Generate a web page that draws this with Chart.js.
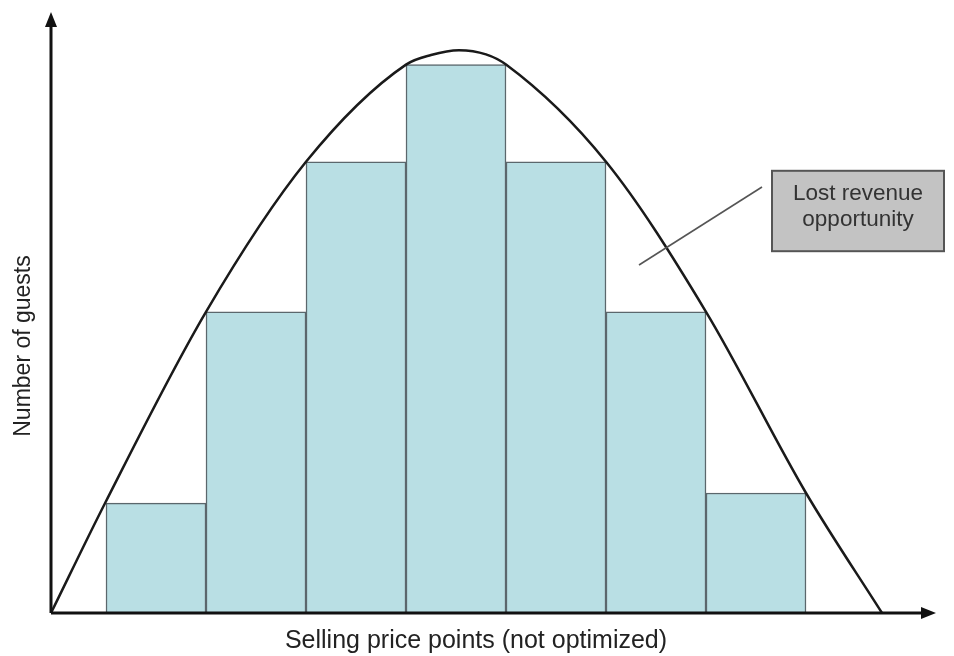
<!DOCTYPE html>
<html>
<head>
<meta charset="utf-8">
<script src="https://cdn.jsdelivr.net/npm/chart.js@4/dist/chart.umd.min.js"></script>
<style>
  html, body { margin: 0; padding: 0; background: #ffffff; }
  #wrap { width: 954px; height: 656px; position: relative; }
</style>
</head>
<body>
<div id="wrap"><canvas id="c" width="954" height="656"></canvas></div>
<script>
// Price points (bar centres, in price-step units) and guest counts per price point
const pricePoints = [1.05, 2.05, 3.05, 4.05, 5.05, 6.05, 7.05];
const guests      = [18.3, 50.2, 75.2, 91.4, 75.2, 50.2, 20.0];

// Underlying demand curve (x = price, y = guests)
const demandX = [0, 0.54, 1.55, 2.55, 3.55, 3.8, 4.08, 4.35, 4.55, 5.55, 6.55, 7.55, 8.31];
const demandY = [0, 18.3, 50.2, 75.2, 91.4, 93.0, 93.8, 93.1, 91.4, 75.2, 50.2, 20.0, 0];

// Axis titles and the callout
const xTitle = 'Selling price points (not optimized)';
const yTitle = 'Number of guests';
const calloutLines = ['Lost revenue', 'opportunity'];
// Callout box (data units) and its leader line
const calloutBox = { x0: 7.21, x1: 8.93, yTop: 73.7, yBottom: 60.3 };
const leader = { x0: 5.88, y0: 58.0, x1: 7.11, y1: 71.0 };

const FONT = '"Liberation Sans", Arial, sans-serif';

const axesAndNotes = {
  id: 'axesAndNotes',
  afterDatasetsDraw(chart) {
    const { ctx, chartArea: a, scales: { x, y } } = chart;
    ctx.save();

    // Leader line from the gap to the callout
    ctx.strokeStyle = '#555555';
    ctx.lineWidth = 1.6;
    ctx.beginPath();
    ctx.moveTo(x.getPixelForValue(leader.x0), y.getPixelForValue(leader.y0));
    ctx.lineTo(x.getPixelForValue(leader.x1), y.getPixelForValue(leader.y1));
    ctx.stroke();

    // Callout box
    const bx0 = x.getPixelForValue(calloutBox.x0), bx1 = x.getPixelForValue(calloutBox.x1);
    const by0 = y.getPixelForValue(calloutBox.yTop), by1 = y.getPixelForValue(calloutBox.yBottom);
    ctx.fillStyle = '#c3c3c3';
    ctx.fillRect(bx0, by0, bx1 - bx0, by1 - by0);
    ctx.strokeStyle = '#555555';
    ctx.lineWidth = 2;
    ctx.strokeRect(bx0, by0, bx1 - bx0, by1 - by0);
    ctx.fillStyle = '#333333';
    ctx.font = '22.5px ' + FONT;
    ctx.textAlign = 'center';
    ctx.textBaseline = 'alphabetic';
    const cx = (bx0 + bx1) / 2, cy = (by0 + by1) / 2;
    ctx.fillText(calloutLines[0], cx, cy - 11);
    ctx.fillText(calloutLines[1], cx, cy + 15);

    // Axes with arrow heads
    ctx.strokeStyle = '#111111';
    ctx.fillStyle = '#111111';
    ctx.lineWidth = 3;
    ctx.lineCap = 'butt';
    ctx.beginPath();
    ctx.moveTo(a.left, a.bottom);
    ctx.lineTo(a.left, a.top + 10);
    ctx.moveTo(a.left, a.bottom);
    ctx.lineTo(a.right - 10, a.bottom);
    ctx.stroke();
    ctx.beginPath();
    ctx.moveTo(a.left, a.top - 1);
    ctx.lineTo(a.left - 6, a.top + 14);
    ctx.lineTo(a.left + 6, a.top + 14);
    ctx.closePath();
    ctx.fill();
    ctx.beginPath();
    ctx.moveTo(a.right + 1, a.bottom);
    ctx.lineTo(a.right - 14, a.bottom - 6);
    ctx.lineTo(a.right - 14, a.bottom + 6);
    ctx.closePath();
    ctx.fill();

    // Axis titles
    ctx.fillStyle = '#222222';
    ctx.textAlign = 'center';
    ctx.textBaseline = 'middle';
    ctx.font = '25px ' + FONT;
    ctx.fillText(xTitle, 476, a.bottom + 28);
    ctx.font = '23px ' + FONT;
    ctx.translate(24, 346);
    ctx.rotate(-Math.PI / 2);
    ctx.fillText(yTitle, 0, 0);
    ctx.restore();
  }
};

new Chart(document.getElementById('c'), {
  data: {
    datasets: [
      {
        type: 'line',
        data: demandX.map((v, i) => ({ x: v, y: demandY[i] })),
        borderColor: '#1a1a1a',
        borderWidth: 2.5,
        pointRadius: 0,
        cubicInterpolationMode: 'monotone',
        fill: false,
        clip: false,
        order: 0
      },
      {
        type: 'bar',
        data: pricePoints.map((v, i) => ({ x: v, y: guests[i] })),
        backgroundColor: '#b9dfe4',
        borderColor: '#5b676c',
        borderWidth: 1.5,
        barPercentage: 1,
        categoryPercentage: 1,
        order: 1
      }
    ]
  },
  options: {
    responsive: false,
    animation: false,
    layout: { padding: { left: 51, right: 19, top: 13, bottom: 43 } },
    plugins: { legend: { display: false }, tooltip: { enabled: false } },
    scales: {
      x: {
        type: 'linear', min: 0, max: 8.84, display: false, offset: false,
        // one tick per price point so bar widths follow the price step
        afterBuildTicks: s => { s.ticks = pricePoints.map(v => ({ value: v })); }
      },
      y: { type: 'linear', min: 0, max: 100, display: false }
    }
  },
  plugins: [axesAndNotes]
});
</script>
</body>
</html>
